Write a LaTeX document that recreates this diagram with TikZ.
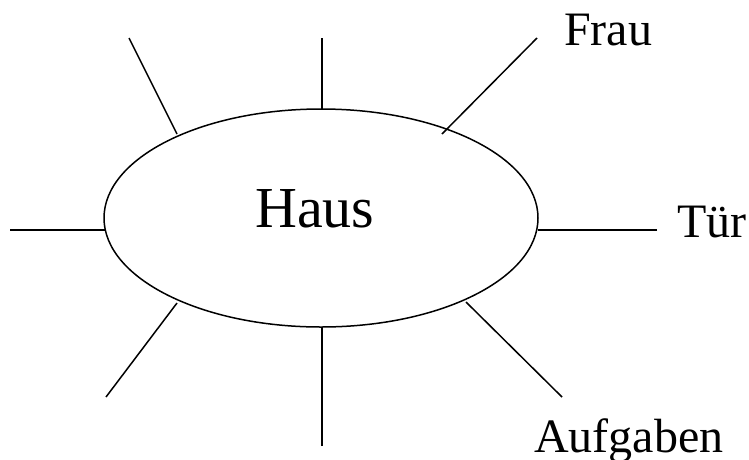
\documentclass[tikz,border=0pt]{standalone}
\usepackage{fontspec}
\setmainfont{Liberation Serif}
\usetikzlibrary{shapes.geometric}
\begin{document}
\begin{tikzpicture}[x=1pt,y=-1pt,
  ray/.style={line width=1.5pt},
  lbl/.style={anchor=base west,inner sep=0pt,font=\fontsize{48}{48}\selectfont},
  ring/.style={draw,ellipse,line width=1.5pt,minimum width=434pt,minimum height=218pt,inner sep=0pt}]
\useasboundingbox (0,0) rectangle (749,459);
\node[ring] (haus) at (321,218) {};
\node[anchor=base west,inner sep=0pt,font=\fontsize{58}{58}\selectfont] (hausname) at (255,227) {Haus};
\node[lbl] (frau) at (564,45) {Frau};
\node[lbl] (tuer) at (677,237) {Tür};
\node[lbl] (aufgaben) at (534,452) {Aufgaben};
% free ends
\coordinate (tl) at (129,38);
\coordinate (tlin) at (177,134);
\coordinate (tc) at (322,38);
\coordinate (tcin) at (322,109);
\coordinate (tr) at (537,38);
\coordinate (trin) at (442,134);
\coordinate (l) at (10,230);
\coordinate (lin) at (105,230);
\coordinate (r) at (657,230);
\coordinate (rin) at (538,230);
\coordinate (bl) at (106,397);
\coordinate (blin) at (177,303);
\coordinate (bc) at (322,446);
\coordinate (bcin) at (322,327);
\coordinate (br) at (562,397);
\coordinate (brin) at (466,302);
\draw[ray] (tl) -- (tlin);
\draw[ray] (tc) -- (tcin);
\draw[ray] (tr) -- (trin);
\draw[ray] (l) -- (lin);
\draw[ray] (r) -- (rin);
\draw[ray] (bl) -- (blin);
\draw[ray] (bc) -- (bcin);
\draw[ray] (br) -- (brin);
\end{tikzpicture}
\end{document}
